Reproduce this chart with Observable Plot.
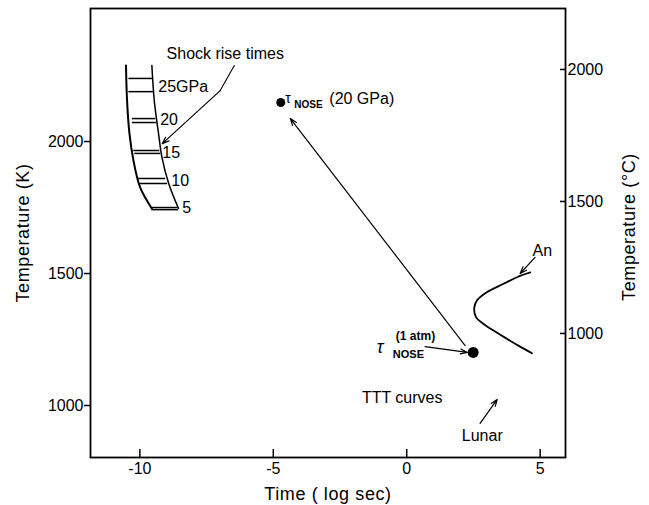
<!DOCTYPE html>
<html><head><meta charset="utf-8">
<script src="https://cdn.jsdelivr.net/npm/d3@7"></script>
<script src="https://cdn.jsdelivr.net/npm/@observablehq/plot@0.6"></script>
<style>body{margin:0;background:#fff;} svg{display:block;}</style>
</head><body><div id="chart"></div>
<script>
// Axis ticks
const xTicks = [-10, -5, 0, 5];
const kTicks = [1000, 1500, 2000];
const cTicks = [1000, 1500, 2000];
const axisTitles = {left: "Temperature (K)", right: "Temperature (°C)", bottom: "Time ( log sec)"};

// Shock rise-time band boundaries (log sec, K)
const shockLeftT = [-10.52, -10.48, -10.39, -10.24, -9.99, -9.55];
const shockLeftK = [2288, 2155, 2030, 1928, 1826, 1746];
const shockRightT = [-9.55, -9.46, -9.30, -9.17, -8.92, -8.55];
const shockRightK = [2288, 2155, 2030, 1939, 1841, 1746];

// Rungs across the band
const rungK = [2239, 2189, 2087, 2072, 1966, 1955, 1860, 1841, 1750, 1742];
const rungT1 = [-10.43, -10.43, -10.30, -10.30, -10.25, -10.21, -10.10, -10.06, -9.57, -9.57];
const rungT2 = [-9.53, -9.50, -9.42, -9.39, -9.27, -9.24, -9.05, -8.98, -8.60, -8.57];

// Pressure labels
const pLabels = ["25GPa", "20", "15", "10", "5"];
const pLabelT = [-9.31, -9.24, -9.16, -8.82, -8.41];
const pLabelK = [2208, 2083, 1958, 1852, 1750];

// "Shock rise times" leader
const leaderT = [-6.46, -6.99];
const leaderK = [2288, 2193];
const leaderArrow = {t1: -6.99, k1: 2193, t2: -9.16, k2: 1992};

// An TTT curve
const anT = [4.63, 4.13, 3.63, 3.00, 2.63, 2.53, 2.60, 2.88, 3.25, 3.75, 4.25, 4.69];
const anK = [1504, 1486, 1461, 1429, 1398, 1370, 1334, 1309, 1284, 1253, 1223, 1198];

// Nose points
const nose20 = {t: -4.72, K: 2148};
const nose1 = {t: 2.49, K: 1201};

// Arrows
const arrows = [
  {t1: 2.19, k1: 1227, t2: -4.36, k2: 2087},   // 1 atm -> 20 GPa
  {t1: 0.69, k1: 1223, t2: 2.27, k2: 1201},    // tau label -> 1 atm point
  {t1: 4.81, k1: 1561, t2: 4.25, k2: 1500},    // An
  {t1: 2.75, k1: 932, t2: 3.39, k2: 1023},     // Lunar
  leaderArrow
];

// Free labels
const labels = [
  {text: "Shock rise times", t: -6.80, K: 2333},
  {text: "TTT curves", t: -0.17, K: 1030},
  {text: "Lunar", t: 2.83, K: 886},
  {text: "An", t: 5.08, K: 1587}
];
const tau20 = {t: -4.55, K: 2159};
const tau1 = {t: -1.12, K: 1220};

const font = "Liberation Sans, Arial, sans-serif";
const zip = (a, b) => a.map((v, i) => ({t: v, K: b[i]}));
const fmt = d => String(d);
const mid = {textAnchor: "middle", lineAnchor: "middle", fontSize: 18};

const chart = Plot.plot({
  width: 649, height: 505,
  marginLeft: 90, marginRight: 84, marginTop: 8, marginBottom: 48,
  style: {fontFamily: font, fontSize: "16px", color: "#000", background: "#fff"},
  x: {domain: [-11.85, 5.95]},
  y: {domain: [803, 2504]},
  marks: [
    Plot.frame({strokeWidth: 1.8}),
    Plot.axisY(kTicks, {anchor: "left", tickSize: 6, tickPadding: 1, strokeWidth: 1.5, fontSize: 16, tickFormat: fmt, label: null}),
    Plot.axisY(cTicks.map(c => c + 273), {anchor: "right", tickSize: 0, tickPadding: 2, fontSize: 16,
      tickFormat: d => String(d - 273), label: null}),
    Plot.axisY(cTicks.map(c => c + 273), {anchor: "right", tickSize: 6, dx: -6, strokeWidth: 1.5, tickFormat: () => "", label: null}),
    Plot.axisX(xTicks, {anchor: "bottom", tickSize: 0, tickPadding: 5, fontSize: 16, tickFormat: fmt, label: null}),
    Plot.axisX(xTicks, {anchor: "bottom", tickSize: 8, dy: -8, strokeWidth: 1.5, tickFormat: () => "", label: null}),

    // axis titles
    Plot.text([axisTitles.left], {frameAnchor: "left", rotate: -90, dx: -67, ...mid}),
    Plot.text([axisTitles.right], {frameAnchor: "right", rotate: -90, dx: 64, dy: -6, ...mid}),
    Plot.text([axisTitles.bottom], {frameAnchor: "bottom", dy: 37, ...mid}),

    // shock band
    Plot.line(zip(shockLeftT, shockLeftK), {x: "t", y: "K", curve: "catmull-rom", strokeWidth: 2}),
    Plot.line(zip(shockRightT, shockRightK), {x: "t", y: "K", curve: "catmull-rom", strokeWidth: 1.5}),
    Plot.link(rungK.map((k, i) => ({k, a: rungT1[i], b: rungT2[i]})), {x1: "a", x2: "b", y1: "k", y2: "k", strokeWidth: 1.5}),
    Plot.text(pLabels.map((s, i) => ({s, t: pLabelT[i], K: pLabelK[i]})), {x: "t", y: "K", text: "s", textAnchor: "start", fontSize: 16}),

    // leader
    Plot.line(zip(leaderT, leaderK), {x: "t", y: "K", strokeWidth: 1.1}),

    // An curve
    Plot.line(zip(anT, anK), {x: "t", y: "K", curve: "catmull-rom", strokeWidth: 1.8}),

    // arrows
    Plot.arrow(arrows, {x1: "t1", y1: "k1", x2: "t2", y2: "k2", strokeWidth: 1.2, headLength: 9, headAngle: 40}),

    // dots
    Plot.dot([nose20], {x: "t", y: "K", r: 4.5, fill: "#000"}),
    Plot.dot([nose1], {x: "t", y: "K", r: 5.5, fill: "#000"}),

    // labels
    Plot.text(labels, {x: "t", y: "K", text: "text", fontSize: 16}),
    Plot.text([tau20], {x: "t", y: "K", text: () => "τ", textAnchor: "start", fontSize: 14, dy: -1}),
    Plot.text([tau20], {x: "t", y: "K", text: () => "NOSE", textAnchor: "start", fontSize: 10, fontWeight: "bold", dx: 9, dy: 5}),
    Plot.text([tau20], {x: "t", y: "K", text: () => "(20 GPa)", textAnchor: "start", fontSize: 16, dx: 44, dy: -1}),
    Plot.text([tau1], {x: "t", y: "K", text: () => "τ", textAnchor: "start", fontSize: 18, fontStyle: "italic"}),
    Plot.text([tau1], {x: "t", y: "K", text: () => "NOSE", textAnchor: "start", fontSize: 11, fontWeight: "bold", dx: 16, dy: 7}),
    Plot.text([tau1], {x: "t", y: "K", text: () => "(1 atm)", textAnchor: "start", fontSize: 12, fontWeight: "bold", dx: 19, dy: -11})
  ]
});
d3.select(chart).selectAll("text")
  .filter(function () { return Object.values(axisTitles).includes(this.textContent); })
  .attr("letter-spacing", "0.6px");
document.getElementById("chart").appendChild(chart);
</script>
</body></html>
